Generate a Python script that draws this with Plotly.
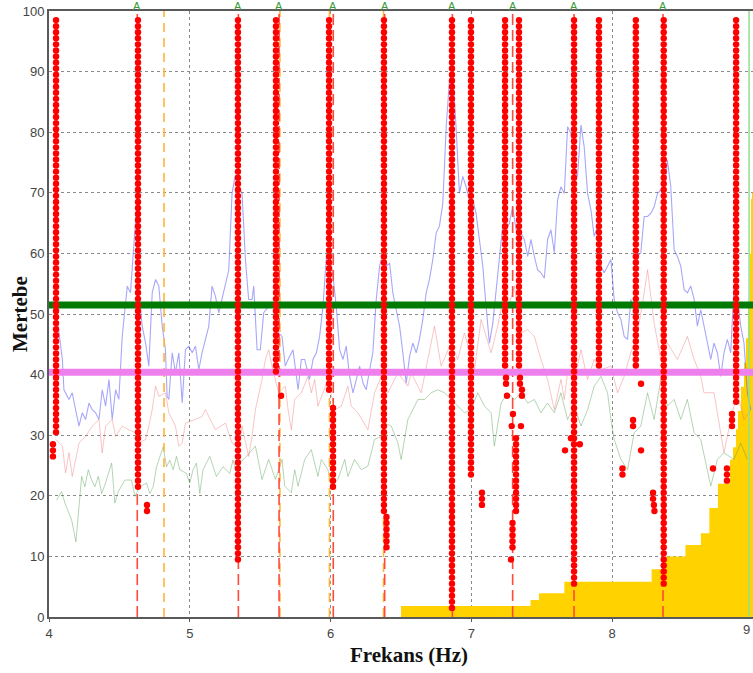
import numpy as np
import plotly.graph_objects as go

# ---------------- data ----------------
x_tick_vals = [4, 5, 6, 7, 8]
x_edge_tick = 9
y_tick_vals = [0, 10, 20, 30, 40, 50, 60, 70, 80, 90, 100]

blue_x = [4.030, 4.059, 4.095, 4.106, 4.142, 4.165, 4.189, 4.213, 4.236, 4.260, 4.284, 4.307, 4.331, 4.355,
          4.378, 4.402, 4.426, 4.449, 4.473, 4.496, 4.520, 4.556, 4.579, 4.603, 4.619, 4.638, 4.662, 4.686,
          4.709, 4.733, 4.757, 4.780, 4.804, 4.827, 4.839, 4.851, 4.875, 4.898, 4.922, 4.946, 4.969, 4.993,
          5.017, 5.040, 5.064, 5.087, 5.111, 5.135, 5.158, 5.182, 5.206, 5.229, 5.253, 5.277, 5.300, 5.324,
          5.348, 5.371, 5.395, 5.418, 5.442, 5.454, 5.478, 5.501, 5.525, 5.560, 5.608, 5.631, 5.655, 5.678,
          5.698, 5.733, 5.769, 5.792, 5.816, 5.851, 5.875, 5.899, 5.922, 5.946, 5.970, 5.993, 6.017, 6.040,
          6.064, 6.088, 6.111, 6.135, 6.159, 6.182, 6.206, 6.230, 6.253, 6.277, 6.300, 6.324, 6.348, 6.371,
          6.395, 6.419, 6.442, 6.466, 6.490, 6.513, 6.537, 6.561, 6.584, 6.608, 6.631, 6.655, 6.679, 6.702,
          6.726, 6.750, 6.773, 6.797, 6.821, 6.844, 6.868, 6.891, 6.915, 6.939, 6.962, 6.986, 7.010, 7.033,
          7.057, 7.081, 7.104, 7.128, 7.152, 7.175, 7.199, 7.222, 7.246, 7.270, 7.293, 7.317, 7.340, 7.376,
          7.400, 7.423, 7.447, 7.470, 7.494, 7.518, 7.541, 7.565, 7.589, 7.612, 7.636, 7.660, 7.683, 7.707,
          7.731, 7.754, 7.778, 7.801, 7.825, 7.849, 7.872, 7.896, 7.920, 7.943, 7.967, 7.991, 8.014, 8.038,
          8.062, 8.085, 8.109, 8.132, 8.156, 8.180, 8.203, 8.227, 8.251, 8.274, 8.298, 8.322, 8.345, 8.369,
          8.392, 8.416, 8.440, 8.463, 8.487, 8.511, 8.534, 8.558, 8.582, 8.605, 8.629, 8.652, 8.676, 8.700,
          8.723, 8.747, 8.771, 8.794, 8.818, 8.842, 8.865, 8.889, 8.913, 8.936, 8.960, 8.984]
blue_y = [52.0, 49.1, 42.5, 37.5, 35.9, 37.0, 34.2, 31.5, 33.7, 32.6, 35.3, 34.2, 33.7, 32.6,
          37.5, 34.8, 39.2, 32.6, 37.5, 35.9, 46.3, 54.6, 53.5, 61.2, 66.9, 53.5, 48.0, 45.2,
          41.4, 53.5, 55.7, 54.6, 48.0, 44.1, 36.4, 35.9, 43.6, 40.3, 43.6, 35.3, 44.1, 44.7,
          43.6, 44.7, 40.8, 43.6, 45.8, 48.0, 54.6, 52.9, 50.2, 52.4, 54.6, 57.3, 69.9, 73.0,
          71.0, 69.9, 59.0, 52.4, 52.4, 54.6, 44.1, 44.1, 50.2, 51.3, 51.3, 46.9, 46.3, 41.4,
          42.5, 44.1, 37.5, 42.5, 42.5, 39.2, 42.5, 43.6, 46.3, 51.3, 59.5, 59.5, 56.2, 51.3,
          44.1, 42.5, 44.7, 39.7, 37.0, 39.2, 41.4, 38.6, 37.5, 40.8, 43.6, 52.4, 57.9, 60.1,
          57.9, 58.4, 53.5, 50.7, 48.0, 43.6, 38.6, 43.0, 45.2, 43.6, 45.8, 49.1, 53.5, 55.7,
          59.0, 63.4, 64.5, 68.3, 80.9, 88.6, 89.7, 80.9, 69.9, 72.7, 71.0, 68.8, 68.8, 66.6,
          62.3, 57.9, 51.3, 45.2, 48.5, 53.5, 59.0, 64.5, 63.9, 65.0, 67.7, 63.9, 63.9, 62.3,
          59.5, 62.3, 59.5, 57.3, 56.8, 55.9, 62.3, 63.9, 60.1, 68.8, 71.0, 69.9, 80.9, 79.8,
          73.8, 72.7, 81.2, 77.6, 69.9, 67.2, 62.8, 64.5, 57.9, 56.8, 57.9, 59.0, 52.4, 50.2,
          49.1, 46.3, 45.8, 52.4, 50.7, 59.5, 60.1, 66.1, 66.1, 66.6, 67.7, 69.9, 70.5, 69.9,
          75.4, 71.0, 60.6, 59.5, 57.9, 54.0, 53.5, 54.6, 52.4, 48.0, 50.7, 48.0, 45.8, 42.5,
          45.2, 43.6, 39.7, 43.6, 45.8, 43.6, 54.6, 52.4, 48.0, 45.2, 37.0, 34.2]

red_x = [4.047, 4.095, 4.118, 4.142, 4.165, 4.189, 4.213, 4.260, 4.307, 4.355, 4.378, 4.402, 4.449, 4.473,
         4.520, 4.567, 4.615, 4.638, 4.686, 4.709, 4.733, 4.757, 4.780, 4.827, 4.851, 4.898, 4.922, 4.946,
         4.969, 5.040, 5.087, 5.111, 5.182, 5.253, 5.300, 5.348, 5.371, 5.418, 5.442, 5.466, 5.513, 5.537,
         5.560, 5.584, 5.631, 5.678, 5.698, 5.721, 5.745, 5.792, 5.839, 5.863, 5.887, 5.910, 5.981, 6.029,
         6.076, 6.123, 6.147, 6.194, 6.265, 6.312, 6.360, 6.407, 6.478, 6.549, 6.572, 6.643, 6.690, 6.738,
         6.785, 6.856, 6.903, 6.950, 7.022, 7.069, 7.140, 7.187, 7.234, 7.258, 7.305, 7.352, 7.400, 7.447,
         7.494, 7.541, 7.589, 7.636, 7.660, 7.683, 7.731, 7.778, 7.825, 7.872, 7.920, 7.991, 8.038, 8.085,
         8.132, 8.180, 8.227, 8.251, 8.298, 8.345, 8.392, 8.463, 8.534, 8.582, 8.629, 8.652, 8.723, 8.771,
         8.794, 8.842, 8.889, 8.936, 8.984]
red_y = [29.3, 28.2, 23.8, 27.1, 23.2, 26.0, 28.7, 29.8, 31.5, 32.6, 27.1, 31.5, 32.6, 29.8,
         31.5, 30.9, 30.4, 28.7, 29.3, 31.5, 34.2, 38.1, 36.4, 37.0, 33.7, 31.5, 28.2, 28.7,
         32.0, 32.6, 33.1, 34.2, 30.9, 32.0, 28.7, 28.2, 31.5, 26.5, 29.8, 34.2, 39.2, 42.5,
         44.1, 41.4, 37.0, 38.1, 34.2, 30.9, 35.9, 37.0, 39.7, 37.0, 39.2, 34.8, 39.2, 34.2,
         34.8, 38.1, 34.8, 33.7, 30.9, 37.0, 39.7, 37.0, 40.3, 38.1, 40.3, 37.0, 42.5, 48.0,
         41.4, 45.2, 42.5, 46.9, 40.8, 49.1, 43.6, 48.0, 53.5, 50.7, 54.6, 46.9, 47.4, 46.3,
         42.5, 39.2, 34.2, 39.2, 35.9, 40.3, 39.2, 44.1, 39.2, 42.5, 40.8, 41.4, 37.0, 39.7,
         43.6, 46.9, 53.5, 57.3, 48.5, 42.5, 45.2, 42.5, 46.3, 42.5, 39.7, 37.0, 37.0, 30.4,
         27.1, 32.6, 37.0, 32.6, 34.2]

green_x = [4.054, 4.090, 4.113, 4.137, 4.161, 4.191, 4.208, 4.232, 4.255, 4.279, 4.303, 4.326, 4.350, 4.374,
           4.397, 4.445, 4.468, 4.492, 4.539, 4.586, 4.610, 4.645, 4.693, 4.716, 4.740, 4.764, 4.811, 4.835,
           4.858, 4.882, 4.905, 4.929, 4.976, 5.000, 5.023, 5.047, 5.071, 5.094, 5.142, 5.189, 5.236, 5.284,
           5.307, 5.331, 5.355, 5.402, 5.466, 5.513, 5.560, 5.608, 5.655, 5.674, 5.721, 5.745, 5.769, 5.816,
           5.863, 5.910, 5.934, 5.981, 6.005, 6.052, 6.100, 6.123, 6.170, 6.218, 6.265, 6.312, 6.360, 6.383,
           6.431, 6.478, 6.501, 6.549, 6.620, 6.667, 6.714, 6.761, 6.809, 6.856, 6.903, 6.950, 6.998, 7.045,
           7.093, 7.140, 7.163, 7.211, 7.258, 7.305, 7.353, 7.400, 7.447, 7.494, 7.541, 7.589, 7.636, 7.683,
           7.731, 7.778, 7.825, 7.872, 7.920, 7.967, 7.991, 8.014, 8.062, 8.109, 8.156, 8.203, 8.251, 8.298,
           8.345, 8.392, 8.440, 8.487, 8.534, 8.582, 8.629, 8.676, 8.700, 8.747, 8.794, 8.865, 8.913, 8.960]
green_y = [19.3, 20.7, 18.8, 17.4, 16.0, 12.4, 17.1, 23.2, 21.5, 24.3, 22.6, 21.5, 23.2, 20.4,
           21.8, 25.4, 18.8, 20.7, 22.6, 22.6, 19.9, 21.5, 22.1, 20.4, 21.5, 24.8, 28.1, 24.8,
           25.9, 24.3, 26.5, 24.3, 23.7, 22.1, 24.3, 25.4, 20.4, 24.3, 26.5, 23.2, 24.8, 23.7,
           25.9, 23.7, 25.4, 26.5, 28.2, 22.7, 26.0, 22.7, 26.0, 21.6, 20.5, 24.3, 21.6, 26.0,
           27.6, 23.2, 26.0, 24.3, 21.6, 22.7, 26.0, 23.2, 26.0, 24.3, 24.9, 29.3, 29.8, 32.0,
           31.5, 28.7, 26.0, 32.6, 35.9, 35.9, 37.0, 37.5, 37.0, 35.9, 34.8, 33.7, 34.2, 37.0,
           34.8, 33.7, 28.2, 35.3, 37.0, 35.9, 37.0, 35.3, 35.9, 33.7, 35.3, 33.7, 37.0, 32.6,
           34.8, 31.5, 34.2, 38.1, 39.7, 37.0, 32.6, 29.3, 26.0, 24.3, 30.4, 31.5, 37.0, 32.6,
           39.2, 34.8, 35.9, 32.6, 35.9, 30.4, 29.3, 24.3, 21.6, 26.0, 27.1, 26.0, 28.7, 26.0]

yellow_x = [6.50, 7.42, 7.48, 7.66, 8.28, 8.38, 8.52, 8.63, 8.69, 8.751, 8.837, 8.858, 8.879, 8.893,
            8.915, 8.936, 8.950, 8.964, 8.979, 8.986, 8.993, 9.0]
yellow_y = [1.8, 2.8, 3.9, 5.8, 7.9, 10.0, 11.9, 13.8, 18.0, 22.0, 26.0, 28.0, 31.0, 34.0,
            38.0, 42.0, 46.0, 52.0, 60.0, 69.0, 70.0, 70.0]

green_level = 51.5
violet_level = 40.4

col_x = [4.050, 4.632, 5.342, 5.612, 5.989, 6.017, 6.379, 6.397, 6.862, 6.997, 7.239, 7.338,
         7.317, 7.292, 7.729, 7.906, 8.168, 8.366, 8.880]
col_top = [98.5, 98.5, 98.5, 98.5, 98.5, 34.5, 98.5, 16.5, 98.5, 98.5, 98.5, 98.5,
           29.5, 15.5, 98.5, 98.5, 98.5, 98.5, 98.5]
col_bottom = [30.5, 21.5, 9.5, 40.5, 37.5, 21.5, 17.5, 11.5, 1.5, 23.5, 41.5, 41.5,
              17.5, 11.5, 5.5, 41.5, 41.5, 5.5, 35.5]

extra_x = [4.028, 4.028, 4.028, 4.696, 4.696, 5.648, 7.075, 7.075, 7.075, 7.246, 7.246, 7.253,
           7.345, 7.345, 7.359, 7.359, 7.352, 7.295, 7.286, 7.281, 7.665, 7.707, 7.770,
           8.205, 8.205, 8.148, 8.148, 8.073, 8.073, 8.290, 8.290, 8.296, 8.300,
           8.851, 8.851, 8.851, 8.815, 8.815, 8.815, 8.716]
extra_y = [28.5, 27.5, 26.5, 18.5, 17.5, 36.5, 20.5, 19.5, 18.5, 39.5, 38.5, 36.5,
           39.5, 38.5, 37.5, 36.5, 31.5, 33.5, 31.5, 9.5, 27.5, 29.5, 28.5,
           38.5, 27.5, 32.5, 31.5, 24.5, 23.5, 20.5, 19.5, 18.5, 17.5,
           33.5, 32.5, 31.5, 24.5, 23.5, 22.5, 24.5]

a_marks_x = [4.627, 5.345, 5.634, 6.019, 6.384, 6.865, 7.293, 7.729, 8.361]
orange_marks_x = [4.817, 5.640, 5.992, 6.376]
green_vline_x = 8.972
a_label = "A"

# ---------------- figure ----------------
fig = go.Figure()

fig.add_trace(go.Scatter(x=yellow_x, y=yellow_y, mode="lines", line=dict(shape="hv", width=0, color="#ffd000"),
                         fill="tozeroy", fillcolor="#ffd200", hoverinfo="skip"))

fig.add_trace(go.Scatter(x=green_x, y=green_y, mode="lines",
                         line=dict(color="rgba(90,160,90,0.45)", width=1), hoverinfo="skip"))
fig.add_trace(go.Scatter(x=red_x, y=red_y, mode="lines",
                         line=dict(color="rgba(240,110,110,0.40)", width=1), hoverinfo="skip"))
fig.add_trace(go.Scatter(x=blue_x, y=blue_y, mode="lines",
                         line=dict(color="rgba(95,95,245,0.55)", width=1.1), hoverinfo="skip"))

fig.add_trace(go.Scatter(x=[green_vline_x, green_vline_x], y=[0, 100], mode="lines",
                         line=dict(color="#90e090", width=1.5), hoverinfo="skip"))


def vlines(xs):
    vx, vy = [], []
    for v in xs:
        vx += [v, v, None]
        vy += [0, 100, None]
    return vx, vy


ox, oy = vlines(orange_marks_x)
fig.add_trace(go.Scatter(x=ox, y=oy, mode="lines",
                         line=dict(color="#ffb43c", width=1.6, dash="9px,6px"), hoverinfo="skip"))
rx, ry = vlines(a_marks_x)
fig.add_trace(go.Scatter(x=rx, y=ry, mode="lines",
                         line=dict(color="#ff4a3a", width=1.6, dash="11px,5px"), hoverinfo="skip"))

fig.add_trace(go.Scatter(x=[4, 9], y=[green_level, green_level], mode="lines",
                         line=dict(color="#007a00", width=7), hoverinfo="skip"))
fig.add_trace(go.Scatter(x=[4, 9], y=[violet_level, violet_level], mode="lines",
                         line=dict(color="#ee80ee", width=7), hoverinfo="skip"))

dot_x, dot_y = [], []
for cx, ct, cb in zip(col_x, col_top, col_bottom):
    levels = np.arange(cb, ct + 0.01, 1.0)
    dot_x += [cx] * len(levels)
    dot_y += list(levels)
dot_x += extra_x
dot_y += extra_y
fig.add_trace(go.Scatter(x=dot_x, y=dot_y, mode="markers",
                         marker=dict(color="#ff0000", size=6.4, line=dict(width=0)), hoverinfo="skip"))

for ax in a_marks_x:
    fig.add_annotation(x=ax, y=1, xref="x", yref="paper", text=a_label, showarrow=False,
                       yanchor="bottom", yshift=-3,
                       font=dict(family="Liberation Sans", size=11, color="#3a9a3a"))

# tick label at the right edge, kept inside the page
fig.add_annotation(x=x_edge_tick, y=0, xref="x", yref="paper", text=str(x_edge_tick), showarrow=False,
                   xanchor="right", yanchor="top", yshift=-3, xshift=-1,
                   font=dict(family="Liberation Sans", size=13, color="#444"))

fig.add_annotation(x=0, y=0.5, xref="paper", yref="paper", text="<b>Mertebe</b>", showarrow=False,
                   textangle=-90, xanchor="center", yanchor="middle", xshift=-29,
                   font=dict(family="Liberation Serif", size=21, color="#111"))
fig.add_annotation(x=0.5, y=0, xref="paper", yref="paper", text="<b>Frekans (Hz)</b>", showarrow=False,
                   xanchor="center", yanchor="middle", xshift=8, yshift=-38,
                   font=dict(family="Liberation Serif", size=21, color="#111"))

fig.update_layout(
    width=753, height=673,
    margin=dict(l=49, r=0, t=11, b=56),
    paper_bgcolor="white", plot_bgcolor="white",
    showlegend=False,
    font=dict(family="Liberation Sans", size=13, color="#444"),
)
fig.update_xaxes(range=[4, 9], tickvals=x_tick_vals, showgrid=True, gridcolor="#8a8a8a", griddash="dot",
                 gridwidth=1, showline=True, linecolor="#5a5a5a", linewidth=2, mirror=True,
                 ticks="outside", ticklen=3, tickcolor="#5a5a5a", zeroline=False)
fig.update_yaxes(range=[0, 100], tickvals=y_tick_vals, showgrid=True, gridcolor="#8a8a8a", griddash="dot",
                 gridwidth=1, showline=True, linecolor="#5a5a5a", linewidth=2,
                 ticks="", zeroline=False)

fig.write_html("out.html")
